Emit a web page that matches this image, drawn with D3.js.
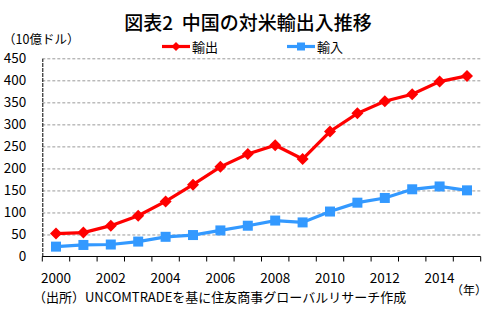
<!DOCTYPE html>
<html>
<head>
<meta charset="utf-8">
<script src="https://cdn.jsdelivr.net/npm/d3@7"></script>
<style>
    body { margin: 0; background: #fff; }
    svg text { font-family: "Noto Sans CJK JP", "Noto Sans", sans-serif; fill: #000; }
</style>
</head>
<body>
<div id="chart"></div>
<script>
// 年次データ（10億ドル）
const years = [2000, 2001, 2002, 2003, 2004, 2005, 2006, 2007, 2008, 2009, 2010, 2011, 2012, 2013, 2014, 2015];
const exportsToUS = [52.1, 54.3, 70.0, 92.5, 125.0, 163.0, 203.5, 232.8, 252.4, 221.3, 283.8, 325.0, 352.4, 368.4, 397.1, 410.0];
const importsFromUS = [22.4, 26.2, 27.2, 33.9, 44.7, 48.7, 59.2, 69.9, 81.6, 77.4, 102.1, 122.2, 132.9, 152.6, 159.0, 150.2];
const yTicks = [0, 50, 100, 150, 200, 250, 300, 350, 400, 450];
const yearLabels = [2000, 2002, 2004, 2006, 2008, 2010, 2012, 2014];

const seriesList = [
    { name: '輸出', values: exportsToUS, color: '#ff0000', marker: 'diamond' },
    { name: '輸入', values: importsFromUS, color: '#3399ff', marker: 'square' }
];

const width = 490, height = 322;
const margin = { top: 58.3, right: 9.3, bottom: 65.5, left: 42.3 };
const boundedWidth = width - margin.left - margin.right;
const boundedHeight = height - margin.top - margin.bottom;

const svg = d3.select('#chart')
    .append('svg')
    .attr('width', width)
    .attr('height', height);

// タイトル
svg.append('text')
    .attr('x', 248)
    .attr('y', 29.5)
    .attr('text-anchor', 'middle')
    .attr('font-size', 19)
    .attr('font-weight', 500)
    .attr('xml:space', 'preserve')
    .text('図表2  中国の対米輸出入推移');

svg.append('text')
    .attr('x', 3)
    .attr('y', 44)
    .attr('font-size', 12.5)
    .text('（10億ドル）');

const bounds = svg.append('g')
    .attr('transform', `translate(${margin.left},${margin.top})`);

const xScale = d3.scaleBand()
    .domain(years)
    .range([0, boundedWidth])
    .padding(0);

const yScale = d3.scaleLinear()
    .domain([0, 450])
    .range([boundedHeight, 0]);

const xPos = d => xScale(d) + xScale.bandwidth() / 2;

// グリッド線
const grid = bounds.append('g')
    .call(d3.axisLeft(yScale).tickValues(yTicks.slice(1)).tickSize(-boundedWidth).tickFormat(''));
grid.select('.domain').remove();
grid.selectAll('line')
    .attr('stroke', '#9a9a9a')
    .attr('stroke-dasharray', '3,2');

// Y軸
const yAxisG = bounds.append('g')
    .call(d3.axisLeft(yScale).tickValues(yTicks).tickSize(0).tickPadding(16));
yAxisG.select('.domain')
    .attr('stroke', '#000')
    .attr('stroke-dasharray', '4,1');
yAxisG.selectAll('text')
    .attr('font-size', 13.5)
    .style('font-family', '"Noto Sans CJK JP", sans-serif');

// X軸
const xAxisG = bounds.append('g')
    .attr('transform', `translate(0,${boundedHeight})`);
xAxisG.append('line')
    .attr('x1', 0).attr('x2', boundedWidth)
    .attr('stroke', '#000');
xAxisG.selectAll('.tick-mark')
    .data(years.concat([null]))
    .join('line')
    .attr('class', 'tick-mark')
    .attr('x1', d => d === null ? boundedWidth : xScale(d))
    .attr('x2', d => d === null ? boundedWidth : xScale(d))
    .attr('y1', 0).attr('y2', 5)
    .attr('stroke', '#000');
xAxisG.selectAll('.year-label')
    .data(yearLabels)
    .join('text')
    .attr('class', 'year-label')
    .attr('x', d => xPos(d))
    .attr('y', 26.5)
    .attr('text-anchor', 'middle')
    .attr('font-size', 13.5)
    .text(d => d);

svg.append('text')
    .attr('x', 451)
    .attr('y', 295)
    .attr('font-size', 12)
    .text('（年）');

svg.append('text')
    .attr('x', 33)
    .attr('y', 302)
    .attr('font-size', 13)
    .text('（出所）UNCOMTRADEを基に住友商事グローバルリサーチ作成');

// マーカー
const drawMarker = (sel, type, size) => {
    if (type === 'diamond') {
        sel.append('path')
            .attr('d', `M0,${-size}L${size},0L0,${size}L${-size},0Z`);
    } else {
        sel.append('rect')
            .attr('x', -size).attr('y', -size)
            .attr('width', size * 2).attr('height', size * 2);
    }
};

const line = d3.line()
    .x((d, i) => xPos(years[i]))
    .y(d => yScale(d));

seriesList.forEach(s => {
    bounds.append('path')
        .datum(s.values)
        .attr('fill', 'none')
        .attr('stroke', s.color)
        .attr('stroke-width', 3.2)
        .attr('d', line);

    bounds.selectAll(null)
        .data(s.values)
        .join('g')
        .attr('transform', (d, i) => `translate(${xPos(years[i])},${yScale(d)})`)
        .attr('fill', s.color)
        .each(function () { drawMarker(d3.select(this), s.marker, s.marker === 'diamond' ? 6 : 5); });
});

// 凡例
const legend = svg.append('g')
    .attr('transform', 'translate(162,46.5)');
const legendItems = legend.selectAll('g')
    .data(seriesList)
    .join('g')
    .attr('transform', (d, i) => `translate(${i * 125},0)`);
legendItems.append('line')
    .attr('x1', 0).attr('x2', 28)
    .attr('stroke', d => d.color)
    .attr('stroke-width', 3.2);
legendItems.append('g')
    .attr('transform', 'translate(14,0)')
    .attr('fill', d => d.color)
    .each(function (d) { drawMarker(d3.select(this), d.marker, d.marker === 'diamond' ? 4.5 : 4); });
legendItems.append('text')
    .attr('x', 30)
    .attr('y', 5)
    .attr('font-size', 13)
    .text(d => d.name);
</script>
</body>
</html>
